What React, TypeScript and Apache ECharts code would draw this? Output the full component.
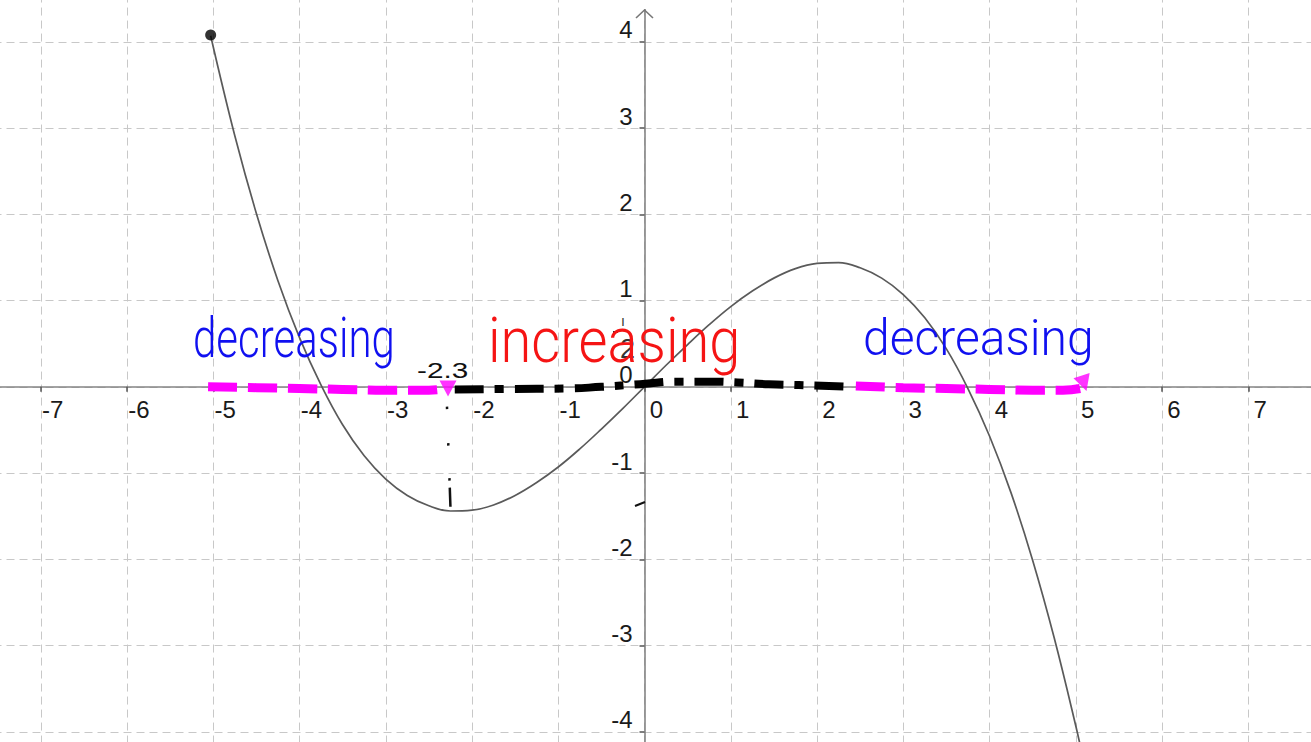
import React, { useEffect, useRef } from 'react';
import * as echarts from 'echarts';

// Cubic curve sampled along x
const curveX = [-5.03, -4.75, -4.5, -4.25, -4, -3.75, -3.5, -3.25, -3, -2.75, -2.5, -2.25, -2, -1.75, -1.5, -1.25, -1, -0.75, -0.5, -0.25, 0, 0.25, 0.5, 0.75, 1, 1.25, 1.5, 1.75, 2, 2.25, 2.5, 2.75, 3, 3.25, 3.5, 3.75, 4, 4.25, 4.5, 4.75, 5, 5.1];
const curveY = [4.07, 2.91, 2.01, 1.23, 0.57, 0.02, -0.44, -0.8, -1.07, -1.26, -1.38, -1.44, -1.43, -1.37, -1.26, -1.11, -0.93, -0.72, -0.49, -0.25, 0, 0.25, 0.49, 0.72, 0.93, 1.11, 1.26, 1.37, 1.43, 1.44, 1.38, 1.26, 1.07, 0.8, 0.44, -0.02, -0.57, -1.23, -2.01, -2.91, -3.93, -4.38];

// Closed endpoint of the curve
const startPoint = [-5.03, 4.08];

// Interval strokes drawn along the x-axis
const decreasingLeftX = [-5.06, -4.5, -4, -3.5, -3, -2.5, -2.3];
const decreasingLeftY = [0.0, -0.01, -0.02, -0.03, -0.04, -0.04, -0.02];
const increasingX = [-2.2, -1.6, -0.9, -0.5, -0.05, 0.4, 0.75, 1.08, 1.44, 1.79, 2.14, 2.38];
const increasingY = [-0.03, -0.025, -0.02, 0.0, 0.03, 0.06, 0.06, 0.05, 0.03, 0.02, 0.01, 0.0];
const decreasingRightX = [2.45, 3.0, 3.5, 4.0, 4.5, 4.85, 5.05];
const decreasingRightY = [0.01, -0.01, -0.02, -0.03, -0.04, -0.04, -0.02];

// Arrow tips at the end of each pink stroke
const arrowTips = [
  { x: -2.278, y: -0.02, rotate: 180 },
  { x: 5.096, y: 0.04, rotate: 198 },
];

// Dotted drop line at the turning point
const turningLineX = [-2.29, -2.25];
const turningLineY = [-0.23, -1.39];

const xTicks = [-7, -6, -5, -4, -3, -2, -1, 0, 1, 2, 3, 4, 5, 6, 7];
const yTicks = [-4, -3, -2, -1, 0, 1, 2, 3, 4];

const zip = (xs: number[], ys: number[]) => xs.map((x, i) => [x, ys[i]]);

const BLUE = '#1010f0';
const RED = '#f51414';
const MAGENTA = '#ff00ff';
const FONT = 'Liberation Sans, Arial, sans-serif';

// Plot frame: one unit spans 86.25 px, origin at (644.5, 386.8)
const GRID = { left: -45.5, right: -23.5, top: -44.45, bottom: -76.05 };

export default function App() {
  const ref = useRef<HTMLDivElement>(null);

  useEffect(() => {
    if (!ref.current) return;
    const chart = echarts.init(ref.current, null, { renderer: 'svg', width: 1311, height: 742 });

    const handText = (text: string, x: number, y: number, size: number, sy: number, color: string) => ({
      type: 'text',
      x,
      y,
      scaleY: sy,
      z: 20,
      style: {
        text,
        fill: color,
        fontSize: size,
        fontFamily: 'Roboto',
        fontWeight: 300,
        align: 'left',
        verticalAlign: 'middle',
      },
    });

    chart.setOption({
      animation: false,
      backgroundColor: '#ffffff',
      grid: { ...GRID, containLabel: false, outerBoundsMode: 'none' },
      xAxis: {
        type: 'value',
        min: -8,
        max: 8,
        interval: 1,
        position: 'bottom',
        offset: -431.25,
        axisLine: { onZero: false, lineStyle: { color: '#858585', width: 1.6 } },
        axisTick: { show: true, length: 5, lineStyle: { color: '#555', width: 1.5 } },
        axisLabel: {
          margin: 11,
          fontSize: 24,
          fontFamily: FONT,
          color: '#1a1a1a',
          padding: [0, 0, 0, 24],
          formatter: (v: number) => (xTicks.includes(v) ? String(v) : ''),
        },
        splitLine: { show: true, lineStyle: { color: '#c8c8c8', width: 1, type: [8, 5] } },
      },
      yAxis: {
        type: 'value',
        min: -5,
        max: 5,
        interval: 1,
        position: 'left',
        offset: -690,
        axisLine: { onZero: false, lineStyle: { color: '#858585', width: 1.6 } },
        axisTick: { show: true, length: 5, lineStyle: { color: '#555', width: 1.5 } },
        axisLabel: {
          margin: 12,
          fontSize: 24,
          lineHeight: 24,
          fontFamily: FONT,
          color: '#1a1a1a',
          verticalAlign: 'bottom',
          formatter: (v: number) => (yTicks.includes(v) ? String(v) : ''),
        },
        splitLine: { show: true, lineStyle: { color: '#c8c8c8', width: 1, type: [8, 5] } },
      },
      series: [
        {
          type: 'line',
          data: zip(curveX, curveY),
          smooth: 0.4,
          showSymbol: false,
          z: 3,
          lineStyle: { color: '#5a5a5a', width: 1.7 },
        },
        {
          type: 'scatter',
          data: [startPoint],
          symbol: 'circle',
          symbolSize: 11,
          z: 6,
          itemStyle: { color: '#000' },
        },
        {
          type: 'line',
          data: zip(decreasingLeftX, decreasingLeftY),
          smooth: true,
          showSymbol: false,
          z: 4,
          lineStyle: { color: MAGENTA, width: 9, type: [29, 11], cap: 'butt' },
        },
        {
          type: 'line',
          data: zip(increasingX, increasingY),
          smooth: true,
          showSymbol: false,
          z: 4,
          lineStyle: { color: '#000', width: 8, type: [29, 11, 9, 11], cap: 'butt' },
        },
        {
          type: 'line',
          data: zip(decreasingRightX, decreasingRightY),
          smooth: true,
          showSymbol: false,
          z: 4,
          lineStyle: { color: MAGENTA, width: 9, type: [29, 11], cap: 'butt' },
        },
        {
          type: 'scatter',
          data: arrowTips.map((a) => ({ value: [a.x, a.y], symbolRotate: a.rotate })),
          symbol: 'triangle',
          symbolSize: [17, 16],
          z: 5,
          itemStyle: { color: MAGENTA },
        },
        {
          type: 'line',
          data: zip(turningLineX, turningLineY),
          showSymbol: false,
          z: 4,
          lineStyle: { color: '#111', width: 2.5, type: [2.5, 34, 2.5, 32.5, 2.5, 7, 20, 300], cap: 'butt' },
        },
      ],
      graphic: [
        // y-axis arrow head
        { type: 'rect', z: 10, shape: { x: 641, y: 0, width: 7, height: 9 }, style: { fill: '#ffffff' } },
        {
          type: 'polyline',
          z: 11,
          shape: { points: [[636, 18], [644.5, 10], [653, 18]] },
          style: { stroke: '#777', lineWidth: 1.6, fill: null },
        },
        // turning point value
        {
          type: 'text',
          x: 417,
          y: 370,
          scaleX: 1.35,
          z: 20,
          style: { text: '-2.3', fill: '#111', fontSize: 22, fontFamily: FONT, align: 'left', verticalAlign: 'middle' },
        },
        // small marks next to the y-axis
        {
          type: 'text',
          x: 623,
          y: 321,
          z: 20,
          style: { text: 'ı', fill: '#333', fontSize: 14, fontFamily: FONT, align: 'center', verticalAlign: 'middle' },
        },
        { type: 'line', z: 20, shape: { x1: 613, y1: 332, x2: 618, y2: 332 }, style: { stroke: '#333', lineWidth: 2 } },
        {
          type: 'text',
          x: 627.5,
          y: 349,
          z: 15,
          style: { text: '2', fill: '#333', fontSize: 27, fontFamily: FONT, align: 'center', verticalAlign: 'middle' },
        },
        { type: 'line', z: 20, shape: { x1: 635, y1: 506, x2: 645, y2: 502 }, style: { stroke: '#111', lineWidth: 2 } },
        // handwritten interval notes
        handText('decreasing', 193, 337.7, 42, 1.33, BLUE),
        handText('increasing', 488, 340.7, 56, 1.12, RED),
        handText('decreasing', 863, 338.3, 48, 1.03, BLUE),
      ],
    });

    return () => chart.dispose();
  }, []);

  return (
    <div
      ref={ref}
      style={{ position: 'fixed', left: 0, top: 0, width: 1311, height: 742, background: '#fff' }}
    />
  );
}
